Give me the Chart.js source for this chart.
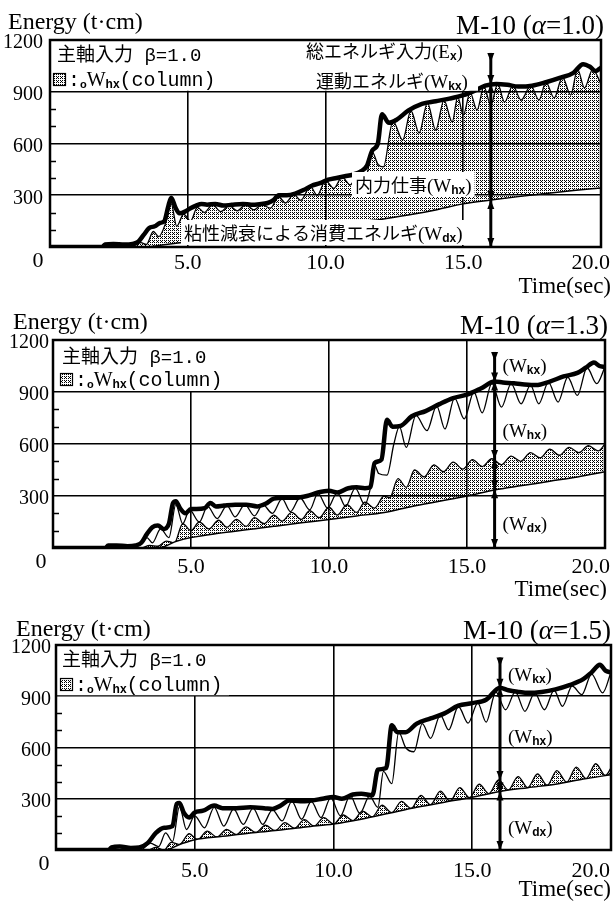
<!DOCTYPE html>
<html><head><meta charset="utf-8">
<script src="https://cdn.jsdelivr.net/npm/chart.js@4.4.1/dist/chart.umd.min.js"></script>
<style>
html,body{margin:0;padding:0;background:#fff;}
#wrap{position:relative;width:616px;height:901px;overflow:hidden;background:#fff;}
canvas{position:absolute;left:0;}
</style></head><body>
<div id="wrap">
<canvas id="c1" width="616" height="300" style="top:0;width:616px;height:300px"></canvas>
<canvas id="c2" width="616" height="300" style="top:300px;width:616px;height:300px"></canvas>
<canvas id="c3" width="616" height="301" style="top:600px;width:616px;height:301px"></canvas>
</div>
<script>
// ---------- DATA ----------
const alphas = ['1.0', '1.3', '1.5'];
const xTickVals = [5, 10, 15, 20];
const xTickLabels = ['5.0', '10.0', '15.0', '20.0'];
const yTickVals = [300, 600, 900, 1200];
const yTickLabels = ['300', '600', '900', '1200'];
const yMinor = [100, 200, 400, 500, 700, 800, 1000, 1100];
const arrowT = 16;
const arrowTops = [1125, 1131, 1127];
const arrowMarks1 = [945, 272];
const arrowMarks2 = [960, 513, 339];
const arrowMarks3 = [950, 410, 343];
const lab2Y = [1015, 640, 104];
const lab3Y = [989, 626, 94];

// Panel 1 (alpha = 1.0)
const ex1T = [0,1.9,2.0,2.3,2.7,3.0,3.2,3.4,3.6,3.8,4.0,4.15,4.3,4.4,4.55,4.7,4.9,5.1,5.3,5.5,5.7,6.0,6.3,6.6,7.0,7.3,7.6,7.9,8.1,8.3,8.6,8.9,9.2,9.5,9.8,10.1,10.4,10.7,11.0,11.3,11.5,11.7,11.9,12.05,12.3,12.6,13.0,13.5,14.0,14.5,15.0,15.4,15.8,16.2,16.6,17.0,17.5,18.0,18.5,19.0,19.35,19.6,19.8,20.0];
const ex1V = [0,0,15,18,14,18,30,70,110,120,140,150,240,285,230,195,205,225,240,250,245,250,240,245,250,245,248,255,270,300,300,310,330,355,370,390,400,410,420,440,470,560,600,770,720,740,790,830,845,860,880,905,935,945,940,930,935,955,980,1010,1060,1045,1020,1040];
const hx1T = [0,3.0,3.3,3.5,3.75,3.95,4.2,4.4,4.6,4.85,5.1,5.35,5.6,5.9,6.2,6.5,6.8,7.1,7.4,7.7,8.0,8.3,8.55,8.85,9.1,9.45,9.7,10.0,10.3,10.6,10.9,11.2,11.45,11.7,11.9,12.1,12.45,12.8,13.1,13.4,13.7,14.0,14.3,14.6,14.8,15.0,15.25,15.5,15.75,16.0,16.25,16.5,16.8,17.1,17.45,17.75,18.0,18.3,18.6,18.9,19.15,19.4,19.7,20.0];
const hx1V = [0,5,25,15,90,60,140,250,120,190,150,230,200,245,205,240,210,245,215,245,225,290,255,305,270,350,300,385,340,405,360,430,400,550,480,464,730,620,790,661,835,678,850,725,870,765,895,794,930,823,945,840,935,852,935,852,955,864,985,881,1030,922,1030,945];
const dx1T = [0,3.5,4,5,6,7,8,9,10,11,12,13,14,15,16,17,18,19,20];
const dx1V = [0,0,10,30,50,70,90,108,125,143,160,185,215,250,272,292,310,327,342];

// Panel 2 (alpha = 1.3)
const ex2T = [0,1.9,2.0,2.3,2.7,3.0,3.2,3.4,3.6,3.8,4.0,4.2,4.35,4.45,4.6,4.8,5.0,5.2,5.5,5.7,5.9,6.2,6.6,7.0,7.4,7.7,8.0,8.4,8.8,9.2,9.6,10.0,10.3,10.7,11.0,11.3,11.5,11.65,11.9,12.1,12.3,12.6,13.0,13.5,14.0,14.5,15.0,15.5,16.0,16.3,16.7,17.0,17.5,18.0,18.5,19.0,19.3,19.6,19.8,20.0];
const ex2V = [0,0,15,15,10,15,30,80,120,130,110,140,260,270,230,200,225,225,230,260,240,245,250,250,240,255,285,290,290,300,320,330,320,345,350,345,350,490,510,740,700,705,760,790,830,865,885,920,960,955,950,945,940,960,990,1010,1040,1070,1050,1045];
const hx2T = [0,3.0,3.4,3.6,3.9,4.2,4.45,4.7,4.95,5.3,5.6,5.95,6.3,6.6,6.95,7.3,7.6,7.95,8.3,8.6,8.95,9.3,9.6,9.95,10.3,10.6,10.95,11.3,11.5,11.65,11.8,12.1,12.35,12.55,12.8,13.15,13.55,13.9,14.2,14.55,14.9,15.25,15.55,15.9,16.25,16.6,16.96,17.3,17.6,17.95,18.3,18.65,19.0,19.35,19.7,20.0];
const hx2V = [0,5,60,30,110,60,250,140,220,150,240,170,245,180,250,185,250,200,285,210,290,220,315,230,320,240,345,250,345,480,430,420,600,700,580,765,677,820,687,865,745,900,780,950,813,948,832,940,832,955,842,985,880,1040,948,1045];
const col2T = [0,3.2,3.5,3.8,4.1,4.4,4.7,5.0,5.3,5.65,6.0,6.3,6.65,7.0,7.3,7.65,8.0,8.3,8.65,9.0,9.3,9.65,10.0,10.3,10.65,11.0,11.3,11.65,12.0,12.2,12.5,12.8,13.1,13.45,13.8,14.15,14.5,14.85,15.2,15.55,15.9,16.25,16.6,16.95,17.3,17.65,18.0,18.35,18.7,19.05,19.4,19.75,20.0];
const col2V = [0,0,15,10,40,30,140,100,150,110,160,120,165,125,175,140,190,155,205,165,215,175,235,190,250,205,265,230,300,290,400,350,450,410,480,440,495,455,510,470,515,480,530,500,550,520,570,535,580,550,590,560,600];
const dx2T = [0,3.8,4.5,5,6,7,8,9,10,11,12,13,14,15,16,17,18,19,20];
const dx2V = [0,0,40,60,85,105,125,145,165,185,205,240,270,300,335,360,385,410,440];

// Panel 3 (alpha = 1.5)
const ex3T = [0,1.9,2.0,2.3,2.7,3.0,3.3,3.6,3.9,4.2,4.35,4.45,4.6,4.8,5.0,5.3,5.7,6.0,6.5,7.0,7.5,7.8,8.1,8.4,8.8,9.2,9.6,10.0,10.3,10.7,11.0,11.4,11.6,11.9,12.1,12.3,12.6,13.0,13.5,14.0,14.5,15.0,15.5,16.0,16.3,16.7,17.0,17.5,18.0,18.5,19.0,19.3,19.6,19.8,20.0];
const ex3V = [0,0,15,20,12,15,40,100,130,140,270,275,220,190,220,230,260,245,245,250,245,240,260,290,285,290,300,310,300,325,330,320,470,480,730,690,690,740,770,800,845,860,880,950,935,925,920,925,940,965,1000,1040,1085,1050,1040];
const hx3T = [0,3.1,3.4,3.7,3.95,4.2,4.45,4.7,5.0,5.35,5.7,6.05,6.4,6.75,7.1,7.45,7.8,8.15,8.5,8.85,9.2,9.55,9.9,10.25,10.6,10.95,11.3,11.6,11.8,12.1,12.35,12.6,12.9,13.2,13.5,13.85,14.15,14.5,14.85,15.2,15.5,15.85,16.2,16.55,16.9,17.25,17.6,17.95,18.25,18.6,18.95,19.3,19.7,20.0];
const hx3V = [0,5,40,20,100,50,255,120,200,130,250,140,240,150,245,150,235,170,285,180,285,190,305,200,318,215,315,250,460,388,690,600,575,740,654,790,703,840,743,860,749,925,821,925,812,920,821,935,841,960,910,1030,920,1040];
const col3T = [0,3.3,3.6,3.9,4.15,4.45,4.8,5.1,5.45,5.8,6.15,6.5,6.85,7.2,7.55,7.9,8.25,8.6,8.95,9.3,9.65,10.0,10.35,10.7,11.05,11.4,11.75,12.1,12.45,12.8,13.15,13.5,13.85,14.2,14.55,14.9,15.25,15.6,15.95,16.3,16.65,17.0,17.35,17.7,18.05,18.4,18.75,19.1,19.45,19.8,20.0];
const col3V = [0,0,15,0,45,32,95,62,110,76,120,90,135,103,145,113,160,127,178,140,190,152,205,172,228,194,262,218,285,243,320,265,345,286,365,306,385,330,410,351,430,365,445,379,465,397,485,418,505,436,480];
const dx3T = [0,3.9,4.5,5,6,7,8,9,10,11,12,13,14,15,16,17,18,19,20];
const dx3V = [0,0,35,60,80,100,115,135,152,180,215,250,280,309,343,365,385,415,441];

// ---------- RENDERING ----------
const SERIF = '"Liberation Serif", "DejaVu Serif", serif';
const MONO = '"Liberation Mono", "DejaVu Sans Mono", monospace';
const CJK = '"Noto Sans CJK JP", "Noto Sans CJK SC", sans-serif';
const SANS = '"Liberation Sans", "DejaVu Sans", sans-serif';
const W = 616;

function pts(T, V, name) {
  if (T.length !== V.length) throw new Error('length mismatch ' + name + ' ' + T.length + ' ' + V.length);
  return T.map((t, i) => ({ x: t, y: V[i] }));
}

function makePattern() {
  const pc = document.createElement('canvas');
  pc.width = 4; pc.height = 4;
  const p = pc.getContext('2d');
  p.fillStyle = '#fff'; p.fillRect(0, 0, 4, 4);
  p.fillStyle = '#000';
  [[0, 0], [2, 2], [2, 0], [0, 2], [1, 1]].forEach(([x, y]) => p.fillRect(x, y, 1, 1));
  return document.getElementById('c1').getContext('2d').createPattern(pc, 'repeat');
}
const PATTERN = makePattern();

function rich(ctx, x, y, parts, align) {
  let w = 0;
  parts.forEach(p => { ctx.font = p.f; w += ctx.measureText(p.t).width; });
  if (align === 'right') x -= w;
  const x0 = x;
  ctx.textAlign = 'left'; ctx.textBaseline = 'alphabetic';
  parts.forEach(p => { ctx.font = p.f; ctx.fillText(p.t, x, y + (p.dy || 0)); x += ctx.measureText(p.t).width; });
  return { x0: x0, w: w };
}
const F_LAB = '19px ' + SERIF;
const F_SUB = 'bold 12px ' + SANS;
const F_CJK = '18px ' + CJK;
function wParts(sub) { return [{ t: '(W', f: F_LAB }, { t: sub, f: F_SUB, dy: 2 }, { t: ')', f: F_LAB }]; }

const deco = {
  id: 'deco',
  afterDraw(chart, args, p) {
    const ctx = chart.ctx, a = chart.chartArea, xs = chart.scales.x, ys = chart.scales.y;
    ctx.save();
    ctx.fillStyle = '#000'; ctx.strokeStyle = '#000';
    // minor ticks
    ctx.lineWidth = 1.5;
    yMinor.forEach(v => {
      const y = Math.round(ys.getPixelForValue(v)) + 0.5;
      ctx.beginPath(); ctx.moveTo(a.left, y); ctx.lineTo(a.left + 6, y); ctx.stroke();
    });
    // arrow at t = 16
    const ax = xs.getPixelForValue(arrowT);
    const aTop = ys.getPixelForValue(p.arrowTop), aBot = ys.getPixelForValue(0);
    ctx.lineWidth = 3;
    ctx.beginPath(); ctx.moveTo(ax, aTop); ctx.lineTo(ax, aBot); ctx.stroke();
    const head = (y, dir) => {
      ctx.beginPath(); ctx.moveTo(ax, y); ctx.lineTo(ax - 3.5, y - dir * 9); ctx.lineTo(ax + 3.5, y - dir * 9); ctx.closePath(); ctx.fill();
    };
    p.marks.forEach(v => { const y = ys.getPixelForValue(v); head(y, 1); head(y, -1); });
    head(aBot, 1);
    head(aTop + 9, 1);

    const y900 = ys.getPixelForValue(900);
    // legend box
    ctx.fillStyle = '#fff';
    ctx.fillRect(a.left + 1, a.top + 1, p.leg.w, y900 - a.top - 2);
    ctx.fillStyle = '#000';
    rich(ctx, a.left + p.leg.r1x, a.top + p.leg.r1y, [
      { t: '主軸入力', f: '19px ' + CJK },
      { t: ' ', f: '19px ' + MONO },
      { t: 'β=1.0', f: '19px ' + MONO }]);
    const ix = a.left + p.leg.r2x, iy = a.top + p.leg.r2y;
    ctx.fillStyle = PATTERN; ctx.fillRect(ix, iy - 13, 13, 13);
    ctx.lineWidth = 1.2; ctx.strokeRect(ix + 0.5, iy - 12.5, 12, 12);
    ctx.fillStyle = '#000';
    rich(ctx, ix + 15, iy, [
      { t: ':', f: '20px ' + MONO },
      { t: 'o', f: 'bold 11px ' + SANS, dy: 2 },
      { t: 'W', f: '20px ' + SERIF },
      { t: 'hx', f: 'bold 12px ' + SANS, dy: 2 },
      { t: '(column)', f: '20px ' + MONO }]);

    // panel-specific annotations
    if (p.panel1) {
      ctx.fillStyle = '#fff';
      ctx.fillRect(300, a.top + 1, 178, y900 - a.top - 2);
      ctx.fillStyle = '#000';
      rich(ctx, 306, 58, [{ t: '総エネルギ入力', f: F_CJK }, { t: '(E', f: F_LAB }, { t: 'x', f: F_SUB, dy: 2 }, { t: ')', f: F_LAB }]);
      rich(ctx, 316, 88, [{ t: '運動エネルギ', f: F_CJK }].concat(wParts('kx')));
      const boxes = [[355, 192, '内力仕事', 'hx'], [184, 240, '粘性減衰による消費エネルギ', 'dx']];
      boxes.forEach(b => {
        const parts = [{ t: b[2], f: F_CJK }].concat(wParts(b[3]));
        let w = 0; parts.forEach(q => { ctx.font = q.f; w += ctx.measureText(q.t).width; });
        ctx.fillStyle = '#fff';
        ctx.fillRect(b[0] - 3, b[1] - 20, w + 6, Math.min(25, a.bottom - 1.5 - (b[1] - 20)));
        ctx.fillStyle = '#000';
        rich(ctx, b[0], b[1], parts);
      });
    } else {
      const subs = ['kx', 'hx', 'dx'];
      p.labY.forEach((v, i) => { rich(ctx, ax + 8, ys.getPixelForValue(v), wParts(subs[i])); });
    }

    // frame
    ctx.lineWidth = 2.5; ctx.strokeStyle = '#000';
    ctx.strokeRect(a.left, a.top, a.right - a.left, a.bottom - a.top);

    // x tick labels and the "0"
    ctx.font = '22px ' + SERIF; ctx.textBaseline = 'alphabetic'; ctx.textAlign = 'center';
    xTickVals.forEach((v, i) => {
      const px = xs.getPixelForValue(v);
      const w = ctx.measureText(xTickLabels[i]).width;
      ctx.fillText(xTickLabels[i], Math.min(px, 610 - w / 2), a.bottom + p.xlabDy);
    });
    ctx.fillText('0', a.left - 12, a.bottom + 20);

    // titles
    ctx.textAlign = 'left';
    ctx.font = '24px ' + SERIF;
    ctx.fillText('Energy (t·cm)', p.eX, p.eY);
    rich(ctx, p.mX, p.mY, [{ t: 'M-10 (', f: '27px ' + SERIF }, { t: 'α', f: 'italic 27px ' + SERIF }, { t: '=' + p.alpha + ')', f: '27px ' + SERIF }], 'right');
    ctx.font = '23px ' + SERIF; ctx.textAlign = 'right';
    ctx.fillText('Time(sec)', p.tX, p.tY);
    ctx.restore();
  }
};

const panels = [
  { id: 'c1', H: 300, A: { l: 50, r: 601, t: 40, b: 247 }, tickPad: 7, xlabDy: 22, eX: 8, eY: 29, mX: 604, mY: 34, tX: 611, tY: 293,
    alpha: alphas[0], ex: [ex1T, ex1V], hx: [hx1T, hx1V], col: null, dx: [dx1T, dx1V], arrowTop: arrowTops[0], marks: arrowMarks1,
    panel1: true, leg: { r1x: 7, r1y: 21, r2x: 3, r2y: 46, w: 172 } },
  { id: 'c2', H: 300, A: { l: 53, r: 605, t: 40, b: 248 }, tickPad: 4, xlabDy: 25, eX: 13, eY: 29, mX: 608, mY: 34, tX: 607, tY: 296,
    alpha: alphas[1], ex: [ex2T, ex2V], hx: [hx2T, hx2V], col: [col2T, col2V], dx: [dx2T, dx2V], arrowTop: arrowTops[1], marks: arrowMarks2,
    labY: lab2Y, leg: { r1x: 9, r1y: 23, r2x: 7, r2y: 46, w: 172 } },
  { id: 'c3', H: 301, A: { l: 56, r: 611, t: 45, b: 250 }, tickPad: 5, xlabDy: 27, eX: 16, eY: 36, mX: 611, mY: 39, tX: 611, tY: 296,
    alpha: alphas[2], ex: [ex3T, ex3V], hx: [hx3T, hx3V], col: [col3T, col3V], dx: [dx3T, dx3V], arrowTop: arrowTops[2], marks: arrowMarks3,
    labY: lab3Y, leg: { r1x: 6, r1y: 21, r2x: 4, r2y: 46, w: 172 } }
];

const lineBase = { borderColor: '#000', pointRadius: 0, cubicInterpolationMode: 'monotone', borderJoinStyle: 'round', borderCapStyle: 'round' };

panels.forEach((p, k) => {
  const ds = [];
  ds.push(Object.assign({}, lineBase, { label: 'Ex', data: pts(p.ex[0], p.ex[1], 'ex' + k), borderWidth: 4.5, fill: false }));
  if (p.col) ds.push(Object.assign({}, lineBase, { label: 'Wdx+Whx', data: pts(p.hx[0], p.hx[1], 'hx' + k), borderWidth: 1.3, fill: false }));
  ds.push(Object.assign({}, lineBase, { label: 'Wdx', data: pts(p.dx[0], p.dx[1], 'dx' + k), borderWidth: 1.5, fill: 'origin', backgroundColor: '#fff' }));
  const top = p.col ? p.col : p.hx;
  ds.push(Object.assign({}, lineBase, { label: 'oWhx', data: pts(top[0], top[1], 'col' + k), borderWidth: 1.3, fill: 'origin', backgroundColor: PATTERN }));
  const A = p.A, H = p.H;
  new Chart(document.getElementById(p.id), {
    type: 'line',
    data: { datasets: ds },
    options: {
      responsive: false, animation: false, devicePixelRatio: 1,
      layout: { padding: { top: A.t, right: W - A.r, left: 0, bottom: 0 } },
      plugins: { legend: { display: false }, tooltip: { enabled: false }, deco: p },
      scales: {
        x: {
          type: 'linear', min: 0, max: 20,
          afterFit: s => { s.height = H - A.b; },
          ticks: { display: false, stepSize: 5 },
          grid: { z: 1, drawTicks: false, lineWidth: 1.6, color: c => (c.tick && [5, 10, 15].includes(c.tick.value)) ? '#000' : 'rgba(0,0,0,0)' },
          border: { display: false }
        },
        y: {
          type: 'linear', min: 0, max: 1200,
          afterFit: s => { s.width = A.l; },
          ticks: {
            stepSize: 100, autoSkip: false, padding: p.tickPad, labelOffset: 3, color: '#000',
            font: { family: SERIF, size: 20 },
            callback: v => { const i = yTickVals.indexOf(v); return i >= 0 ? yTickLabels[i] : ''; }
          },
          grid: { z: 1, drawTicks: false, lineWidth: 1.6, color: c => (c.tick && [300, 600, 900].includes(c.tick.value)) ? '#000' : 'rgba(0,0,0,0)' },
          border: { display: false }
        }
      }
    },
    plugins: [deco]
  });
});
</script>
</body></html>
